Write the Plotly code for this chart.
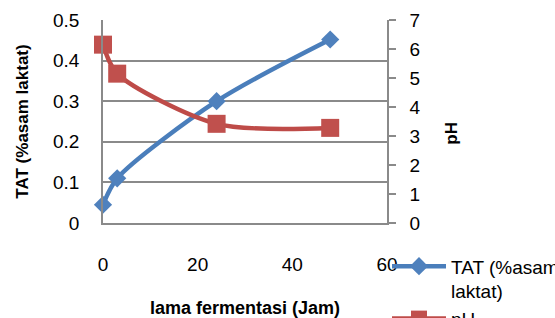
import plotly.graph_objects as go

hours = [0, 3, 24, 48]
tat = [0.045, 0.11, 0.30, 0.452]
ph = [6.15, 5.15, 3.42, 3.28]

x_ticks = [0, 20, 40, 60]
tat_ticks = [0, 0.1, 0.2, 0.3, 0.4, 0.5]
ph_ticks = [0, 1, 2, 3, 4, 5, 6, 7]

FONT = "Liberation Sans"
GRID = "#8a8a8a"
NBSP = "\u00a0"

fig = go.Figure()
fig.add_trace(go.Scatter(
    x=hours, y=tat, name="TAT (%asam<br>laktat)", mode="lines+markers",
    line=dict(color="#4A7EBB", width=4.5, shape="spline", smoothing=0.8),
    marker=dict(symbol="diamond", size=14, color="#4F81BD"),
    cliponaxis=False,
))
fig.add_trace(go.Scatter(
    x=hours, y=ph, name="pH", mode="lines+markers", yaxis="y2",
    line=dict(color="#BE4B48", width=4.5, shape="spline", smoothing=0.8),
    marker=dict(symbol="square", size=18, color="#C0504D"),
    cliponaxis=False,
))

fig.update_layout(
    width=555, height=318,
    margin=dict(l=103, r=168, t=20, b=95, autoexpand=False),
    paper_bgcolor="white", plot_bgcolor="white",
    font=dict(family=FONT, size=19, color="black"),
    showlegend=True,
    legend=dict(x=1.0, xanchor="left", y=-0.12, yanchor="top",
                valign="top", itemwidth=54, tracegroupgap=0,
                font=dict(family=FONT, size=19), bgcolor="rgba(0,0,0,0)"),
    xaxis=dict(range=[0, 60], tickvals=x_ticks, showgrid=False, zeroline=False,
               showline=True, linecolor=GRID, linewidth=1.5, ticks="",
               ticklabelstandoff=23, automargin=False,
               title=dict(text="<b>lama fermentasi (Jam)</b>", standoff=30,
                          font=dict(family=FONT, size=18))),
    yaxis=dict(range=[0, 0.5], tickvals=tat_ticks, showgrid=True, gridcolor=GRID,
               gridwidth=1.5, zeroline=False, showline=True, linecolor=GRID,
               linewidth=1.5, ticks="", ticklabelstandoff=18, automargin=False,
               title=dict(text="<b>TAT (%asam laktat)</b>", standoff=20,
                          font=dict(family=FONT, size=17))),
    yaxis2=dict(range=[0, 7], tickvals=ph_ticks, overlaying="y", side="right",
                showgrid=False, zeroline=False, showline=True, linecolor=GRID,
                linewidth=1.5, ticks="outside", ticklen=7, tickcolor=GRID,
                tickwidth=1.5, ticklabelstandoff=10, automargin=False,
                title=dict(text="<b>pH" + NBSP * 5 + "</b>", standoff=26,
                           font=dict(family=FONT, size=17))),
)

fig.write_html("out.html",
               config={"displayModeBar": False},
               post_script="document.body.style.margin='0';document.body.style.overflow='hidden';")
